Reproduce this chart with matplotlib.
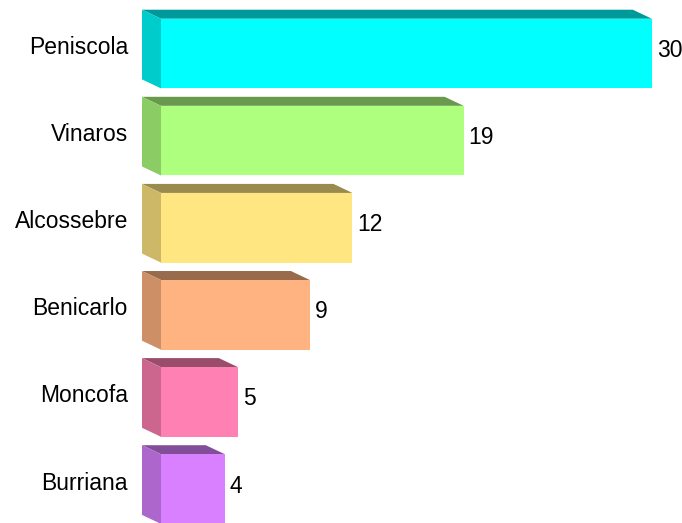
import matplotlib
matplotlib.use("Agg")
import matplotlib.pyplot as plt
from matplotlib.patches import Polygon
from matplotlib.transforms import offset_copy
import numpy as np

categories = ["Peniscola", "Vinaros", "Alcossebre", "Benicarlo", "Moncofa", "Burriana"]
values = [30, 18.5, 11.7, 9.1, 4.7, 3.9]
value_labels = ["30", "19", "12", "9", "5", "4"]
front_colors = ["#00FFFF", "#AEFF7E", "#FFE680", "#FFB380", "#FF80B3", "#D880FF"]

plt.rcParams['font.family'] = ['Liberation Sans', 'DejaVu Sans']

W, H = 682, 523
fig = plt.figure(figsize=(W / 100, H / 100), dpi=100)
top_px = 10.0
ax = fig.add_axes([161 / W, 0, (W - 161) / W, (H - top_px) / H])
sx = 16.36
sy = 87.1
ax.set_xlim(0, (W - 161) / sx)
ax.set_ylim(-0.5 + (H - top_px) / sy, -0.5)
ax.axis('off')

y = np.arange(len(categories))
bars = ax.barh(y, values, height=0.8, color=front_colors, edgecolor='none', clip_on=False, zorder=2)

def shade(c, f):
    c = np.array(matplotlib.colors.to_rgb(c))
    return tuple(c * f)

DX, DY = -19, 9
def back(pt):
    d = ax.transData.transform(pt)
    return tuple(ax.transData.inverted().transform((d[0] + DX, d[1] + DY)))

fig.canvas.draw()
for bar, c in zip(bars, front_colors):
    x0 = bar.get_x()
    x1 = x0 + bar.get_width()
    yb = bar.get_y()
    yt = yb + bar.get_height()
    t = min(yb, yt)
    b = max(yb, yt)
    top_face = [(x0, t), (x1, t), back((x1, t)), back((x0, t))]
    side_face = [(x0, t), (x0, b), back((x0, b)), back((x0, t))]
    ax.add_patch(Polygon(top_face, closed=True, facecolor=shade(c, 0.6), edgecolor='none', clip_on=False, zorder=1))
    ax.add_patch(Polygon(side_face, closed=True, facecolor=shade(c, 0.8), edgecolor='none', clip_on=False, zorder=1))

fs = 16.5
lab_tr = offset_copy(ax.transData, fig=fig, x=-33, y=6, units='dots')
for yi, cat in zip(y, categories):
    ax.text(0, yi, cat, transform=lab_tr, ha='right', va='center', fontsize=fs, color='black')

val_tr = offset_copy(ax.transData, fig=fig, x=5, y=3, units='dots')
for yi, v, lab in zip(y, values, value_labels):
    ax.text(v, yi, lab, transform=val_tr, ha='left', va='center', fontsize=fs, color='black')

fig.savefig("out.png", dpi=100)
